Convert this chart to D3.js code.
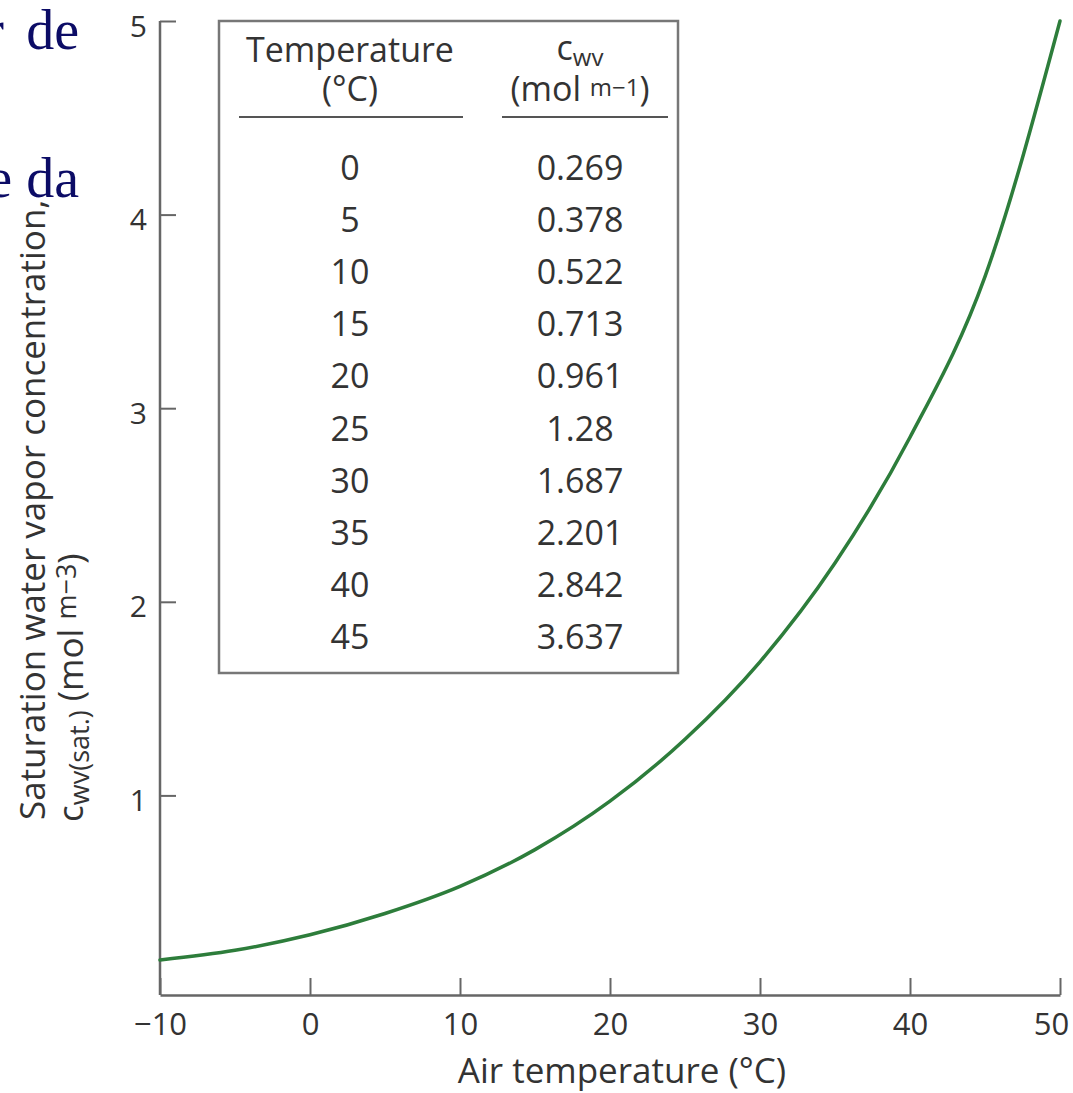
<!DOCTYPE html>
<html>
<head>
<meta charset="utf-8">
<script src="https://cdn.jsdelivr.net/npm/d3@7"></script>
<style>
  html, body { margin: 0; padding: 0; background: #fff; }
  svg { display: block; font-family: "Open Sans", "Noto Sans", sans-serif; }
</style>
</head>
<body>
<div id="chart-div"></div>
<script>
// data -----------------------------------------------------------------
const curveTemps = [-10, -5, 0, 5, 10, 15, 20, 25, 30, 35, 40, 45, 50];
const curveValues = [0.15, 0.20, 0.28, 0.39, 0.53, 0.72, 0.97, 1.29, 1.69, 2.20, 2.85, 3.68, 5.0];
const tableTemps = ['0', '5', '10', '15', '20', '25', '30', '35', '40', '45'];
const tableValues = ['0.269', '0.378', '0.522', '0.713', '0.961', '1.28', '1.687', '2.201', '2.842', '3.637'];
const xTicks = [-10, 0, 10, 20, 30, 40, 50];
const yTicks = [1, 2, 3, 4, 5];

const width = 1073, height = 1093;
const axisColor = '#666', textColor = '#333';

const svg = d3.select('#chart-div')
  .append('svg')
  .attr('width', width)
  .attr('height', height);

// scales
const x = d3.scaleLinear().domain([-10, 50]).range([160, 1060]);
const y = d3.scaleLinear().domain([0, 5]).range([989, 21]);
const axisY = 995;

// stray text from the page behind the figure
const serif = '"Liberation Serif", "DejaVu Serif", serif';
const strayText = (txt, xx, yy) => svg.append('text')
  .attr('x', xx).attr('y', yy)
  .attr('text-anchor', 'end')
  .attr('font-family', serif)
  .attr('font-size', 56)
  .attr('fill', '#0c0c66')
  .text(txt);
strayText('r', 4, 49);
strayText('de', 79, 49);
strayText('e da', 79, 197);

// x axis
const xAxis = svg.append('g')
  .attr('transform', 'translate(0,' + axisY + ')')
  .call(d3.axisBottom(x).tickValues(xTicks).tickSizeInner(-17).tickSizeOuter(0).tickPadding(18));
xAxis.select('.domain').attr('stroke', axisColor).attr('stroke-width', 2.5);
xAxis.selectAll('.tick line').attr('stroke', axisColor).attr('stroke-width', 2);
xAxis.selectAll('.tick text')
  .attr('font-size', 31).attr('fill', textColor)
  .attr('font-family', '"Open Sans", sans-serif')
  .attr('dx', d => d === 50 ? -9 : 0);

// y axis
const yAxis = svg.append('g')
  .attr('transform', 'translate(' + x(-10) + ',0)')
  .call(d3.axisLeft(y).tickValues(yTicks).tickFormat(d3.format('d'))
    .tickSizeInner(-16).tickSizeOuter(0).tickPadding(13));
yAxis.select('.domain').attr('d', 'M0,' + y(5) + 'V' + axisY)
  .attr('stroke', axisColor).attr('stroke-width', 2.5);
yAxis.selectAll('.tick line').attr('stroke', axisColor).attr('stroke-width', 2);
yAxis.selectAll('.tick text')
  .attr('font-size', 30).attr('fill', textColor)
  .attr('dy', '0.5em')
  .attr('font-family', '"Open Sans", sans-serif');

// axis titles
svg.append('text')
  .attr('x', 622).attr('y', 1083)
  .attr('text-anchor', 'middle')
  .attr('font-size', 35).attr('fill', textColor)
  .text('Air temperature (°C)');

svg.append('text')
  .attr('transform', 'translate(45,820) rotate(-90)')
  .attr('font-size', 35).attr('fill', textColor)
  .text('Saturation water vapor concentration,');

const yt2 = svg.append('text')
  .attr('transform', 'translate(83,822) rotate(-90)')
  .attr('font-size', 35).attr('fill', textColor);
yt2.append('tspan').text('c');
yt2.append('tspan').attr('font-size', 27).attr('dy', 6).text('wv(sat.)');
yt2.append('tspan').attr('dy', -6).text(' (mol ');
yt2.append('tspan').attr('font-size', 27).attr('dy', -7).text('m−3');
yt2.append('tspan').attr('dy', 7).text(')');

// curve
const line = d3.line()
  .x((d, i) => x(curveTemps[i]))
  .y(d => y(d))
  .curve(d3.curveMonotoneX);
svg.append('path')
  .datum(curveValues)
  .attr('d', line)
  .attr('fill', 'none')
  .attr('stroke', '#2d7d3b')
  .attr('stroke-width', 3.5)
  .attr('stroke-linecap', 'round');

// table box ------------------------------------------------------------
const box = { x0: 219, y0: 21, x1: 678, y1: 673 };
const table = svg.append('g');
table.append('rect')
  .attr('x', box.x0).attr('y', box.y0)
  .attr('width', box.x1 - box.x0).attr('height', box.y1 - box.y0)
  .attr('fill', '#fff')
  .attr('stroke', '#777').attr('stroke-width', 2.5);

const colL = 350, colR = 580, fs = 34;
table.append('text').attr('x', colL).attr('y', 62).attr('text-anchor', 'middle')
  .attr('font-size', fs).attr('fill', textColor).text('Temperature');
table.append('text').attr('x', colL).attr('y', 101).attr('text-anchor', 'middle')
  .attr('font-size', fs).attr('fill', textColor).text('(°C)');

const h1 = table.append('text').attr('x', colR).attr('y', 60).attr('text-anchor', 'middle')
  .attr('font-size', fs).attr('fill', textColor);
h1.append('tspan').text('c');
h1.append('tspan').attr('font-size', 24).attr('dy', 6).text('wv');
const h2 = table.append('text').attr('x', colR).attr('y', 101).attr('text-anchor', 'middle')
  .attr('font-size', fs).attr('fill', textColor);
h2.append('tspan').text('(mol ');
h2.append('tspan').attr('font-size', 24).attr('dy', -5).text('m−1');
h2.append('tspan').attr('dy', 5).text(')');

table.append('line').attr('x1', 239).attr('x2', 463).attr('y1', 117).attr('y2', 117)
  .attr('stroke', '#555').attr('stroke-width', 2);
table.append('line').attr('x1', 502).attr('x2', 668).attr('y1', 117).attr('y2', 117)
  .attr('stroke', '#555').attr('stroke-width', 2);

const rowY = d3.scaleLinear().domain([0, tableTemps.length - 1]).range([180, 649]);
table.selectAll('.row-t')
  .data(tableTemps).enter().append('text')
  .attr('x', colL).attr('y', (d, i) => rowY(i))
  .attr('text-anchor', 'middle')
  .attr('font-size', fs).attr('fill', textColor)
  .text(d => d);
table.selectAll('.row-v')
  .data(tableValues).enter().append('text')
  .attr('x', colR).attr('y', (d, i) => rowY(i))
  .attr('text-anchor', 'middle')
  .attr('font-size', fs).attr('fill', textColor)
  .text(d => d);
</script>
</body>
</html>
